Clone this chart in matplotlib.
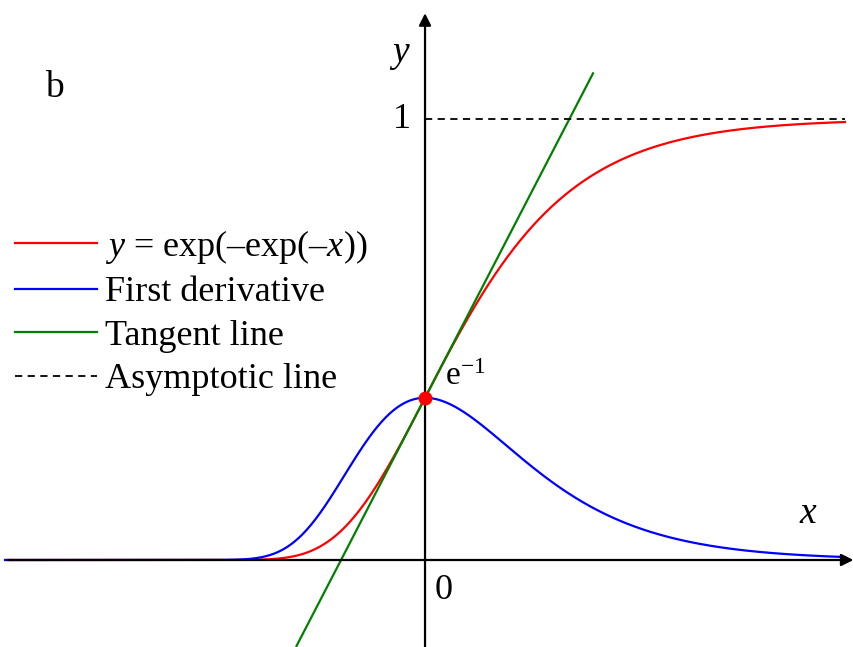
import numpy as np
import matplotlib.pyplot as plt

plt.rcParams['font.family'] = ['Liberation Serif', 'DejaVu Serif']
plt.rcParams['mathtext.fontset'] = 'custom'
plt.rcParams['mathtext.rm'] = 'Liberation Serif'
plt.rcParams['mathtext.it'] = 'Liberation Serif:italic'

# curve domain and tangent segment
x_range = [-5.0, 5.0]
tangent_range = [-1.53, 2.0]
asymptote_range = [0.0, 5.0]
asymptote_level = 1.0
touch_x = 0.0

x = np.linspace(x_range[0], x_range[1], 800)
gompertz = np.exp(-np.exp(-x))
deriv = np.exp(-x - np.exp(-x))

touch_y = np.exp(-np.exp(-touch_x))
slope = np.exp(-touch_x - np.exp(-touch_x))
xt = np.array(tangent_range)
tangent = touch_y + slope * (xt - touch_x)

fig = plt.figure(figsize=(8.54, 6.47), dpi=100)
ax = fig.add_axes([0, 0, 1, 1])
ax.set_xlim(-5.06, 5.107)
ax.set_ylim(-0.1973, 1.270)
ax.axis('off')

# axes with arrow heads
ax.annotate('', xy=(5.1, 0), xytext=(-4.97, 0),
            arrowprops=dict(arrowstyle='-|>', color='black', lw=1.6,
                            mutation_scale=18, shrinkA=0, shrinkB=0))
ax.annotate('', xy=(0, 1.240), xytext=(0, -0.1973),
            arrowprops=dict(arrowstyle='-|>', color='black', lw=1.6,
                            mutation_scale=18, shrinkA=0, shrinkB=0))

l1, = ax.plot(x, gompertz, color='red', lw=1.6, label='$y$ = exp(–exp(–$x$))')
l2, = ax.plot(x, deriv, color='blue', lw=1.6, label='First derivative')
l3, = ax.plot(xt, tangent, color='green', lw=1.6, label='Tangent line')
l4, = ax.plot(asymptote_range, [asymptote_level] * 2, color='black', lw=1.3,
              ls=(0, (4, 3)), label='Asymptotic line')
ax.plot([touch_x], [touch_y], 'o', color='red', ms=9, zorder=5)

ax.legend(handles=[l1, l2, l3, l4], loc='upper left',
          bbox_to_anchor=(0.0176, 0.6476), frameon=False, fontsize=26,
          handlelength=2.27, handletextpad=0.22, labelspacing=0.28,
          borderaxespad=0, borderpad=0)

ax.text(0.064, 0.865, 'b', transform=ax.transAxes, fontsize=27,
        ha='center', va='center')
ax.text(-0.3, 1.145, '$y$', fontsize=27, ha='center', va='center')
ax.text(-0.28, 1.0, '1', fontsize=26, ha='center', va='center')
ax.text(4.57, 0.105, '$x$', fontsize=27, ha='center', va='center')
ax.text(0.22, -0.07, '0', fontsize=26, ha='center', va='center')
ax.text(0.24, 0.415, r'e$^{-1}$', fontsize=24, ha='left', va='center')

fig.savefig('out.png', dpi=100)
